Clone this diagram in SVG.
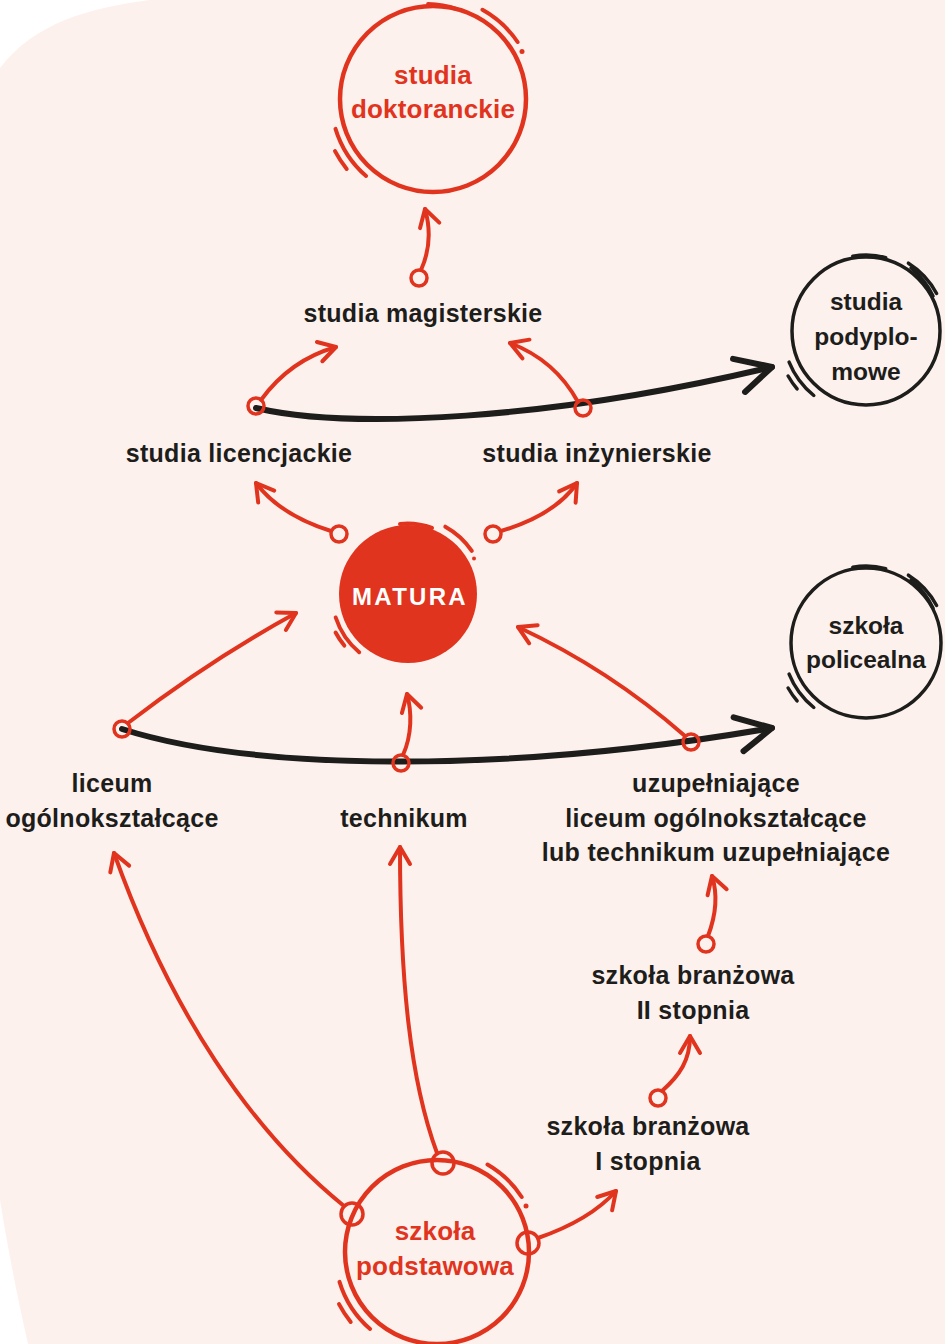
<svg xmlns="http://www.w3.org/2000/svg" width="945" height="1344" viewBox="0 0 945 1344">
<defs>
<style>
.bg{fill:#FDF1ED}
.rc{fill:none;stroke:#E1341E;stroke-width:4.5}
.bc{fill:none;stroke:#1D1D1B;stroke-width:3.5}
.rd{fill:none;stroke:#E1341E;stroke-width:4;stroke-linecap:round}
.bd{fill:none;stroke:#1D1D1B;stroke-width:3.5;stroke-linecap:round}
.ra{fill:none;stroke:#E1341E;stroke-width:4;stroke-linecap:round;marker-end:url(#ah)}
.ba{fill:none;stroke:#1D1D1B;stroke-width:6;stroke-linecap:round;marker-end:url(#bh)}
.ring{fill:none;stroke:#E1341E;stroke-width:3.5}
.lbl{font-family:"Liberation Sans",Arial,sans-serif;font-weight:bold;font-size:25px;letter-spacing:0.3px;fill:#1D1D1B;text-anchor:middle}
.rt{font-family:"Liberation Sans",Arial,sans-serif;font-weight:bold;font-size:26px;letter-spacing:0.2px;fill:#E1341E;text-anchor:middle}
.bt{font-family:"Liberation Sans",Arial,sans-serif;font-weight:bold;font-size:24.5px;fill:#1D1D1B;text-anchor:middle}
.wt{font-family:"Liberation Sans",Arial,sans-serif;font-weight:bold;font-size:24px;fill:#FFFFFF;text-anchor:middle;letter-spacing:2.3px}
</style>
<marker id="ah" markerUnits="userSpaceOnUse" markerWidth="40" markerHeight="40" refX="0" refY="0" orient="auto" overflow="visible">
<path d="M-17,-10 L0,0 L-17,10" fill="none" stroke="#E1341E" stroke-width="4" stroke-linecap="round" stroke-linejoin="round"/>
</marker>
<marker id="bh" markerUnits="userSpaceOnUse" markerWidth="60" markerHeight="60" refX="0" refY="0" orient="auto" overflow="visible">
<path d="M-36,-17 L0,0 L-32,18" fill="none" stroke="#1D1D1B" stroke-width="6" stroke-linecap="round" stroke-linejoin="round"/>
</marker>
</defs>
<rect width="945" height="1344" fill="#FFFFFF"/>
<path class="bg" d="M0,68 C35,22 90,8 150,0 L945,0 L945,1344 L28,1344 C18,1300 8,1250 0,1200 Z"/>

<g id="connectors">
<path class="ba" d="M256,408 C350,430 550,420 772,367"/>
<path class="ba" d="M122,729 C250,770 500,775 772,728"/>
<path class="ra" d="M421,270 C430,250 431,230 425,209"/>
<path class="ra" d="M261,400 Q290,360 336,347"/>
<path class="ra" d="M578,402 Q555,360 510,343"/>
<path class="ra" d="M331,531 Q280,515 256,483"/>
<path class="ra" d="M501,531 Q555,515 577,483"/>
<path class="ra" d="M128,723 Q210,660 296,613"/>
<path class="ra" d="M403,755 C412,735 412,712 407,694"/>
<path class="ra" d="M685,736 Q610,670 518,627"/>
<path class="ra" d="M344,1206 C250,1130 170,1010 114,853"/>
<path class="ra" d="M437,1153 C410,1080 400,980 400,847"/>
<path class="ra" d="M538,1238 Q590,1220 616,1191"/>
<path class="ra" d="M662,1091 C680,1075 690,1060 690,1036"/>
<path class="ra" d="M708,936 C716,915 718,895 712,876"/>
<circle class="ring" cx="419" cy="278" r="8"/>
<circle class="ring" cx="256" cy="406" r="8"/>
<circle class="ring" cx="583" cy="408" r="8"/>
<circle class="ring" cx="339" cy="534" r="8"/>
<circle class="ring" cx="493" cy="534" r="8"/>
<circle class="ring" cx="122" cy="729" r="8"/>
<circle class="ring" cx="401" cy="763" r="8"/>
<circle class="ring" cx="691" cy="742" r="8"/>
<circle class="ring" cx="658" cy="1098" r="8"/>
<circle class="ring" cx="706" cy="944" r="8"/>
</g>

<g id="studia-doktoranckie">
<circle class="rc" cx="433" cy="99" r="93"/>
<path class="rd" d="M428.1,4.1 A95,95 0 0 1 457.1,9.2"/>
<path class="rd" d="M482.5,9.8 A102,102 0 0 1 517.6,42"/>
<circle cx="522" cy="51.5" r="2.5" fill="#E1341E"/>
<path class="rd" d="M366.1,176 A102,102 0 0 1 335.5,128.8"/>
<path class="rd" d="M346.7,168.9 A111,111 0 0 1 335,151.1"/>
<text class="rt" x="433" y="84">studia</text>
<text class="rt" x="433" y="118">doktoranckie</text>
</g>

<g id="studia-podyplomowe">
<circle class="bc" cx="866" cy="331" r="74"/>
<path class="bd" d="M852.8,256.2 A76,76 0 0 1 885.7,257.6"/>
<path class="bd" d="M908.4,263.2 A80,80 0 0 1 936.6,293.5"/>
<path class="bd" d="M911,268 A78,78 0 0 1 933,296" stroke-width="2"/>
<path class="bd" d="M813.8,395.5 A83,83 0 0 1 789.1,362.1"/>
<path class="bd" d="M797.1,388.9 A90,90 0 0 1 788.1,376"/>
<text class="bt" x="866" y="310">studia</text>
<text class="bt" x="866" y="345">podyplo-</text>
<text class="bt" x="866" y="380">mowe</text>
</g>

<g id="szkola-policealna">
<circle class="bc" cx="866" cy="643" r="75"/>
<path class="bd" d="M852.8,567.2 A77,77 0 0 1 885.7,568.6"/>
<path class="bd" d="M908.4,575.2 A80,80 0 0 1 936.6,605.5"/>
<path class="bd" d="M911,580 A78,78 0 0 1 933,608" stroke-width="2"/>
<path class="bd" d="M813.8,707.5 A83,83 0 0 1 789.1,674.1"/>
<path class="bd" d="M797.1,700.9 A90,90 0 0 1 788.1,688"/>
<text class="bt" x="866" y="634">szkoła</text>
<text class="bt" x="866" y="668">policealna</text>
</g>

<g id="matura">
<circle cx="408" cy="594" r="69" fill="#E1341E"/>
<path class="rd" d="M400,524 A70.5,70.5 0 0 1 432,528" stroke-width="2.5"/>
<path class="rd" d="M445.3,526.7 A77,77 0 0 1 471.8,550.9" stroke-width="3"/>
<circle cx="474" cy="558.5" r="2" fill="#E1341E"/>
<path class="rd" d="M359.2,652.2 A76,76 0 0 1 335.7,617.5" stroke-width="3"/>
<path class="rd" d="M344.3,645.6 A82,82 0 0 1 335.6,632.5" stroke-width="3"/>
<text class="wt" x="410" y="605">MATURA</text>
</g>

<g id="szkola-podstawowa">
<circle class="rc" cx="437" cy="1252" r="92"/>
<path class="rd" d="M487.5,1164.5 A101,101 0 0 1 521.7,1197"/>
<circle cx="526" cy="1206" r="2.5" fill="#E1341E"/>
<path class="rd" d="M370.1,1329 A102,102 0 0 1 339.5,1281.8"/>
<path class="rd" d="M350.7,1321.9 A111,111 0 0 1 339,1304.1"/>
<circle class="ring" cx="352" cy="1214" r="11" stroke-width="4"/>
<circle class="ring" cx="443" cy="1163" r="11" stroke-width="4"/>
<circle class="ring" cx="528" cy="1243" r="11" stroke-width="4"/>
<text class="rt" x="435" y="1240">szkoła</text>
<text class="rt" x="435" y="1275">podstawowa</text>
</g>

<g id="studia-magisterskie"><text class="lbl" x="423" y="322">studia magisterskie</text></g>
<g id="studia-licencjackie"><text class="lbl" x="239" y="462">studia licencjackie</text></g>
<g id="studia-inzynierskie"><text class="lbl" x="597" y="462">studia inżynierskie</text></g>
<g id="liceum"><text class="lbl" x="112" y="792">liceum</text><text class="lbl" x="112" y="827">ogólnokształcące</text></g>
<g id="technikum"><text class="lbl" x="404" y="827">technikum</text></g>
<g id="uzupelniajace"><text class="lbl" x="716" y="792">uzupełniające</text><text class="lbl" x="716" y="827">liceum ogólnokształcące</text><text class="lbl" x="716" y="861">lub technikum uzupełniające</text></g>
<g id="branzowa-2"><text class="lbl" x="693" y="984">szkoła branżowa</text><text class="lbl" x="693" y="1019">II stopnia</text></g>
<g id="branzowa-1"><text class="lbl" x="648" y="1135">szkoła branżowa</text><text class="lbl" x="648" y="1170">I stopnia</text></g>
</svg>
